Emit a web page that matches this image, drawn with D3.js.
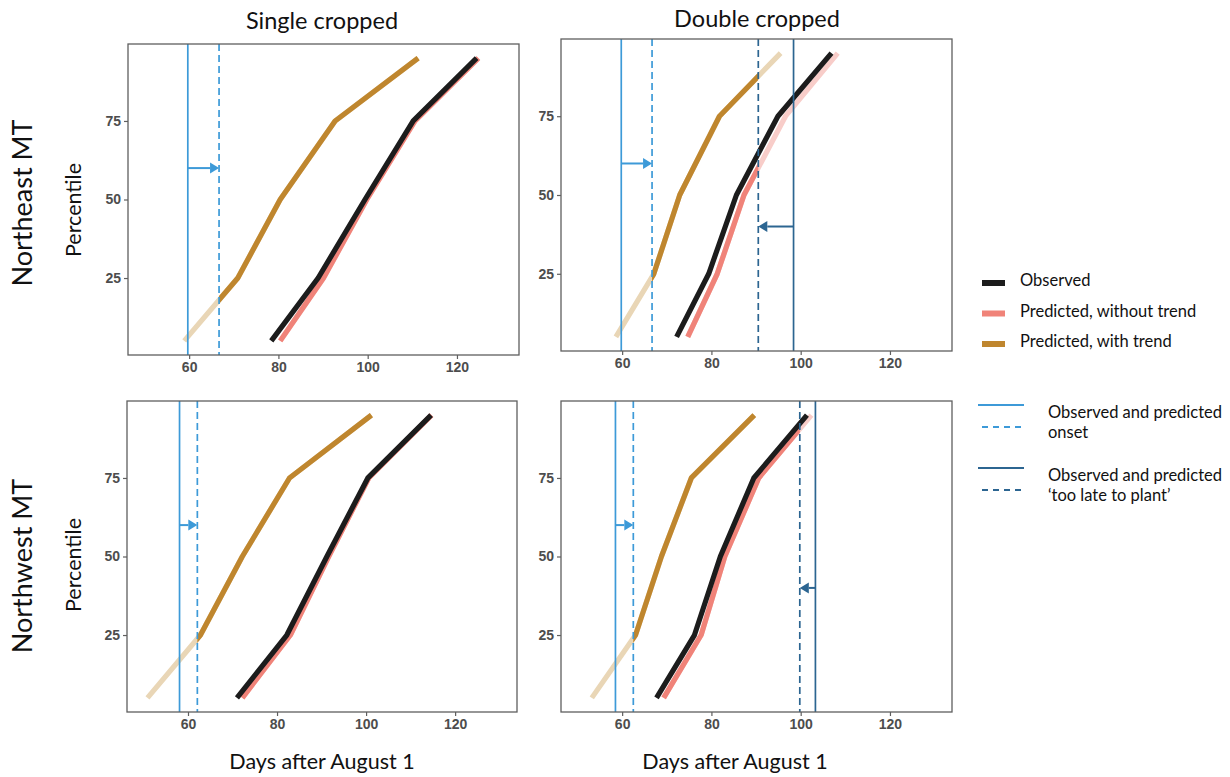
<!DOCTYPE html>
<html>
<head>
<meta charset="utf-8">
<script src="https://cdn.jsdelivr.net/npm/d3@7"></script>
<style>
  body { margin: 0; background: #fff; }
  svg { display: block; }
</style>
</head>
<body>
<svg id="chart"></svg>
<script>
// ---- data (days after August 1, read per percentile) ----
const percentiles = [5, 25, 50, 75, 95]
const xTicks = [60, 80, 100, 120]
const yTicks = [25, 50, 75]
const columnTitles = ["Single cropped", "Double cropped"]
const rowTitles = ["Northeast MT", "Northwest MT"]

// panels: NE single, NE double, NW single, NW double
const observedDays = [
  [78.4, 88.9, 99.4, 110.2, 124.4],
  [72.2, 79.4, 85.6, 94.9, 106.9],
  [71.0, 82.2, 91.2, 100.4, 114.6],
  [67.7, 76.2, 82.0, 89.5, 101.4],
]
const predictedNoTrendDays = [
  [80.4, 90.1, 99.8, 110.6, 124.8],
  [74.7, 81.3, 87.3, 96.6, 108.3],
  [72.2, 83.0, 91.6, 100.6, 114.7],
  [69.3, 77.7, 83.0, 90.6, 102.4],
]
const predictedTrendDays = [
  [58.9, 70.9, 80.4, 92.7, 111.3],
  [58.6, 67.1, 72.9, 81.8, 95.5],
  [50.9, 62.8, 72.2, 82.8, 101.2],
  [53.2, 63.0, 68.8, 75.5, 89.6],
]
const onsetObserved = [59.7, 59.8, 58.1, 58.5]
const onsetPredicted = [66.7, 66.7, 62.1, 62.5]
const tooLateObserved = [null, 98.4, null, 103.3]
const tooLatePredicted = [null, 90.5, null, 99.8]
const onsetArrowPct = 60
const tooLateArrowPct = 40

const legendSeries = ["Observed", "Predicted, without trend", "Predicted, with trend"]

// ---- layout ----
const width = 1230
const height = 777
const panelBoxes = [
  { x: 128, y: 44, w: 391, h: 311 },
  { x: 561, y: 39, w: 391, h: 312 },
  { x: 127, y: 401, w: 390, h: 311 },
  { x: 561, y: 401, w: 391, h: 311 },
]
const colors = {
  observed: "#1c1c1c",
  noTrend: "#f08379",
  noTrendPale: "#f8cdc9",
  trend: "#bf862e",
  trendPale: "#e9d6b6",
  onset: "#3d9ad8",
  tooLate: "#2c6591",
  frame: "#5f5f5f",
  tick: "#4d4d4d",
}
const titleFont = "Lato, 'Open Sans', sans-serif"

const svg = d3.select("#chart").attr("width", width).attr("height", height)

const xDomain = [46.3, 133.9]
const yDomain = [0.5, 99.5]

panelBoxes.forEach((box, i) => {
  const x = d3.scaleLinear().domain(xDomain).range([0, box.w])
  const y = d3.scaleLinear().domain(yDomain).range([box.h, 0])

  const g = svg.append("g").attr("transform", `translate(${box.x},${box.y})`)

  // clip for whole plot area and for the "active" prediction window
  const clipAll = `clip-all-${i}`
  g.append("clipPath").attr("id", clipAll)
    .append("rect").attr("width", box.w).attr("height", box.h)

  const winLo = onsetPredicted[i]
  const winHi = tooLatePredicted[i] == null ? xDomain[1] : tooLatePredicted[i]
  const clipWin = `clip-win-${i}`
  g.append("clipPath").attr("id", clipWin)
    .append("rect")
    .attr("x", x(winLo)).attr("y", 0)
    .attr("width", x(winHi) - x(winLo)).attr("height", box.h)

  const line = d3.line()
    .x((d) => x(d[0]))
    .y((d) => y(d[1]))

  const plot = g.append("g").attr("clip-path", `url(#${clipAll})`)

  const pts = (days) => days.map((d, k) => [d, percentiles[k]])

  const drawLine = (parent, days, color) =>
    parent.append("path")
      .attr("d", line(pts(days)))
      .attr("fill", "none")
      .attr("stroke", color)
      .attr("stroke-width", 5.2)
      .attr("stroke-linejoin", "round")

  // predicted with trend: pale outside window, strong inside
  drawLine(plot, predictedTrendDays[i], colors.trendPale)
  drawLine(plot.append("g").attr("clip-path", `url(#${clipWin})`), predictedTrendDays[i], colors.trend)

  // predicted without trend
  drawLine(plot, predictedNoTrendDays[i], colors.noTrendPale)
  drawLine(plot.append("g").attr("clip-path", `url(#${clipWin})`), predictedNoTrendDays[i], colors.noTrend)

  // observed
  drawLine(plot, observedDays[i], colors.observed)

  // vertical reference lines
  const vline = (day, color, dashed) =>
    plot.append("line")
      .attr("x1", x(day)).attr("x2", x(day))
      .attr("y1", 0).attr("y2", box.h)
      .attr("stroke", color)
      .attr("stroke-width", 1.7)
      .attr("stroke-dasharray", dashed ? "7,4" : null)

  vline(onsetObserved[i], colors.onset, false)
  vline(onsetPredicted[i], colors.onset, true)
  if (tooLateObserved[i] != null) {
    vline(tooLateObserved[i], colors.tooLate, false)
    vline(tooLatePredicted[i], colors.tooLate, true)
  }

  // arrows from observed to predicted
  const arrow = (from, to, pct, color) => {
    const x0 = x(from)
    const x1 = x(to)
    const yy = y(pct)
    const dir = Math.sign(x1 - x0)
    const head = 9
    plot.append("line")
      .attr("x1", x0).attr("x2", x1 - dir * head)
      .attr("y1", yy).attr("y2", yy)
      .attr("stroke", color).attr("stroke-width", 2)
    plot.append("path")
      .attr("d", `M${x1},${yy}L${x1 - dir * head},${yy - 5.5}L${x1 - dir * head},${yy + 5.5}Z`)
      .attr("fill", color)
  }
  arrow(onsetObserved[i], onsetPredicted[i], onsetArrowPct, colors.onset)
  if (tooLateObserved[i] != null) {
    arrow(tooLateObserved[i], tooLatePredicted[i], tooLateArrowPct, colors.tooLate)
  }

  // frame
  g.append("rect")
    .attr("width", box.w).attr("height", box.h)
    .attr("fill", "none")
    .attr("stroke", colors.frame)
    .attr("stroke-width", 1.3)

  // axes
  const xAxis = g.append("g")
    .attr("transform", `translate(0,${box.h})`)
    .call(d3.axisBottom(x).tickValues(xTicks).tickSize(4).tickPadding(3))
  const yAxis = g.append("g")
    .call(d3.axisLeft(y).tickValues(yTicks).tickSize(4).tickPadding(3))

  ;[xAxis, yAxis].forEach((ax) => {
    ax.select(".domain").remove()
    ax.selectAll(".tick line").attr("stroke", colors.frame).attr("stroke-width", 1.2)
    ax.selectAll(".tick text")
      .attr("fill", colors.tick)
      .style("font-family", "'Liberation Sans', Arial, sans-serif")
      .style("font-weight", "bold")
      .style("font-size", "14px")
  })
})

// ---- titles ----
const addText = (txt, x, y, size, rotate) =>
  svg.append("text")
    .attr("transform", `translate(${x},${y})${rotate ? " rotate(-90)" : ""}`)
    .attr("text-anchor", "middle")
    .style("font-family", titleFont)
    .style("font-size", `${size}px`)
    .attr("fill", "#111")
    .text(txt)

addText(columnTitles[0], 322, 29, 23.5)
addText(columnTitles[1], 757, 27, 23.5)
addText(rowTitles[0], 32, 203, 27, true)
addText(rowTitles[1], 32, 566, 27, true)
addText("Percentile", 81, 210, 21.5, true)
addText("Percentile", 81, 565, 21.5, true)
addText("Days after August 1", 322, 769, 21.5)
addText("Days after August 1", 735, 769, 21.5)

// ---- legend ----
const legendColors = [colors.observed, colors.noTrend, colors.trend]
const legend = svg.append("g")
legendSeries.forEach((name, k) => {
  const yy = 283 + k * 30.5
  legend.append("rect")
    .attr("x", 982).attr("y", yy - 3)
    .attr("width", 23).attr("height", 6)
    .attr("fill", legendColors[k])
  legend.append("text")
    .attr("x", 1020).attr("y", yy + 3)
    .style("font-family", titleFont)
    .style("font-size", "16.5px")
    .attr("fill", "#111")
    .text(name)
})

const refLegend = [
  { color: colors.onset, y: 405, lines: ["Observed and predicted", "onset"] },
  { color: colors.tooLate, y: 468, lines: ["Observed and predicted", "\u2018too late to plant\u2019"] },
]
refLegend.forEach((item) => {
  legend.append("line")
    .attr("x1", 978).attr("x2", 1024)
    .attr("y1", item.y).attr("y2", item.y)
    .attr("stroke", item.color).attr("stroke-width", 2)
  legend.append("line")
    .attr("x1", 982).attr("x2", 1022)
    .attr("y1", item.y + 22).attr("y2", item.y + 22)
    .attr("stroke", item.color).attr("stroke-width", 2)
    .attr("stroke-dasharray", "6,5")
  item.lines.forEach((t, j) => {
    legend.append("text")
      .attr("x", 1048).attr("y", item.y + 13 + j * 20)
      .style("font-family", titleFont)
      .style("font-size", "16.5px")
      .attr("fill", "#111")
      .text(t)
  })
})
</script>
</body>
</html>
